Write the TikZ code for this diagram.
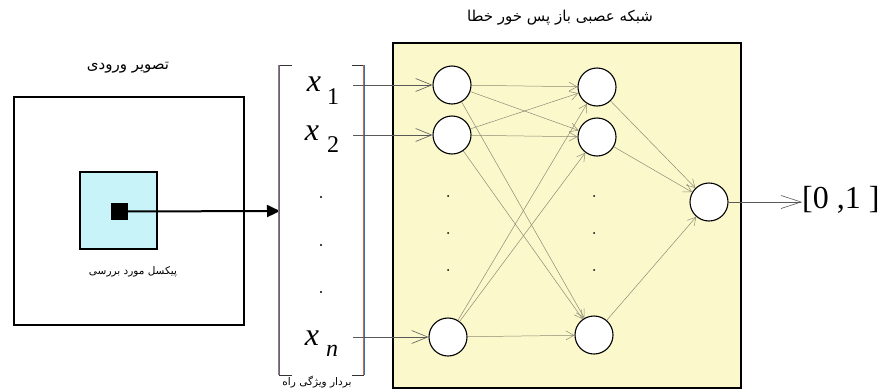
\documentclass[tikz,border=0pt]{standalone}
\usepackage{fontspec}
\setmainfont{Liberation Serif}
\newfontfamily\arabicfont[Script=Arabic]{DejaVu Sans}
\TeXXeTstate=1
\usetikzlibrary{arrows.meta}
\definecolor{cyanfill}{RGB}{200,244,249}
\definecolor{yellowfill}{RGB}{251,248,204}
\definecolor{edgecol}{RGB}{140,140,115}
\definecolor{brblue}{RGB}{50,110,200}
\definecolor{brorange}{RGB}{200,110,60}
\begin{document}
\begin{tikzpicture}[x=1pt,y=-1pt,
  neuron/.style={circle,draw=black,line width=1.1pt,fill=white,minimum size=38pt,inner sep=0pt},
  wire/.style={draw=edgecol,line width=0.5pt,-{Straight Barb[length=8pt,width=9pt]}},
  inwire/.style={draw=black!65,line width=0.6pt,-{Straight Barb[length=16pt,width=13pt]}},
  fa/.style={font=\arabicfont\fontsize{15}{17}\selectfont,inner sep=0pt},
  fasmall/.style={font=\arabicfont\fontsize{10.5}{12}\selectfont,inner sep=0pt},
  xvar/.style={font=\fontsize{32}{32}\selectfont\itshape,inner sep=0pt},
  xsub/.style={font=\fontsize{24}{24}\selectfont,inner sep=0pt},
  xsubit/.style={font=\fontsize{24}{24}\selectfont\itshape,inner sep=0pt},
  dotn/.style={circle,fill=black,inner sep=0pt,minimum size=2.2pt},
  brv/.style={line width=0.9pt}]
\useasboundingbox (0,0) rectangle (890,391);

% input image
\node[draw,line width=1.8pt,minimum width=230pt,minimum height=228pt,inner sep=0pt] (img) at (129,211) {};
\node[fa] (imgtitle) at (128,68) {\beginR تصویر ورودی\endR};
\node[draw,fill=cyanfill,line width=1.6pt,minimum size=77pt,inner sep=0pt] (win) at (118.5,210.5) {};
\node[fill=black,minimum size=17pt,inner sep=0pt] (pix) at (119.5,211.5) {};
\node[fasmall] (pixlabel) at (133,272) {\beginR پیکسل مورد بررسی\endR};

% feature vector bracket
\coordinate (vecin) at (280,211);
\draw[line width=2pt,-{Triangle[length=13pt,width=12pt]}] (pix.center) -- (vecin);
\draw[line width=1pt,black!80] (292,65) -- (279,65) (279,375) -- (292,375);
\draw[line width=1pt,black!80] (352,65) -- (364,65) (364,375) -- (352,375);
\draw[brv,brorange] (278.4,65) -- (278.4,375);
\draw[brv,brblue] (279.6,65) -- (279.6,375);
\draw[brv,brorange] (363.4,65) -- (363.4,375);
\draw[brv,brblue] (364.6,65) -- (364.6,375);

\node[xvar] (x1) at (314,84) {x};
\node[xsub] (s1) at (333,97) {1};
\node[xvar] (x2) at (312,133) {x};
\node[xsub] (s2) at (333,145) {2};
\node[dotn] (vd1) at (321,197) {};
\node[dotn] (vd2) at (321,245) {};
\node[dotn] (vd3) at (321,292) {};
\node[xvar] (xn) at (312,338) {x};
\node[xsubit] (sn) at (332,351) {n};
\node[fasmall] (veclabel) at (317,382) {\beginR بردار ویژگی راه\endR};

% network box
\node[draw,fill=yellowfill,line width=1.8pt,minimum width=348pt,minimum height=345pt,inner sep=0pt] (net) at (567,215.5) {};
\node[fa] (nettitle) at (560,18) {\beginR شبکه عصبی باز پس خور خطا\endR};

\node[neuron] (a1) at (452,85) {};
\node[neuron] (a2) at (452,135) {};
\node[neuron] (an) at (448,337) {};
\node[neuron] (b1) at (597,87) {};
\node[neuron] (b2) at (597,137) {};
\node[neuron] (bn) at (594,335) {};
\node[neuron] (o) at (709,202) {};

\node[dotn,minimum size=2pt] (ad1) at (448,196) {};
\node[dotn,minimum size=2pt] (ad2) at (448,233) {};
\node[dotn,minimum size=2pt] (ad3) at (448,270) {};
\node[dotn,minimum size=2pt] (bd1) at (594,196) {};
\node[dotn,minimum size=2pt] (bd2) at (594,233) {};
\node[dotn,minimum size=2pt] (bd3) at (594,270) {};

\coordinate (c1) at (353,85);
\coordinate (c2) at (353,135);
\coordinate (cn) at (353,337);
\draw[inwire] (c1) -- (a1);
\draw[inwire] (c2) -- (a2);
\draw[inwire] (cn) -- (an);

\foreach \s in {a1,a2,an}
  \foreach \t in {b1,b2,bn}
    \draw[wire] (\s) -- (\t);
\foreach \s in {b1,b2,bn}
  \draw[wire] (\s) -- (o);

\coordinate (res) at (802,202);
\draw[inwire,-{Straight Barb[length=20pt,width=13pt]}] (o) -- (res);
\node[anchor=west,inner sep=0pt,font=\fontsize{32}{32}\selectfont] (out) at (802,200) {[0 ,1 ]};
\end{tikzpicture}
\end{document}
